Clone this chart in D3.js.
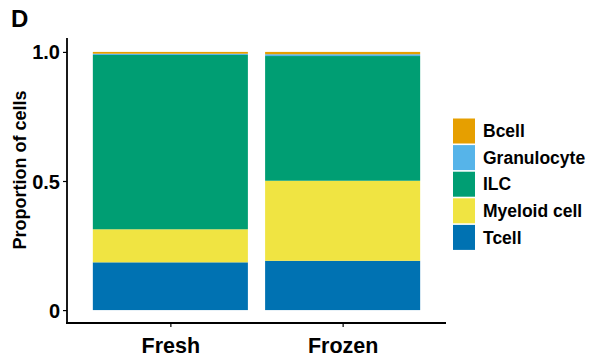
<!DOCTYPE html>
<html>
<head>
<meta charset="utf-8">
<script src="https://cdn.jsdelivr.net/npm/d3@7"></script>
<style>
  body { margin: 0; background: #fff; }
  svg text { font-family: Arial, "Liberation Sans", sans-serif; font-weight: bold; fill: #000; }
</style>
</head>
<body>
<svg id="chart" width="592" height="358"></svg>
<script>
// Data
const samples = ["Fresh", "Frozen"];
const cellTypes = ["Bcell", "Granulocyte", "ILC", "Myeloid cell", "Tcell"];
// proportions per sample, same order as cellTypes
const freshValues = [0.007, 0.005, 0.675, 0.128, 0.185];
const frozenValues = [0.009, 0.007, 0.483, 0.310, 0.191];
const yTicks = [0, 0.5, 1.0];
const yTickLabels = ["0", "0.5", "1.0"];

const colors = {
  "Bcell": "#E69F00",
  "Granulocyte": "#56B4E9",
  "ILC": "#009E73",
  "Myeloid cell": "#F0E442",
  "Tcell": "#0072B2",
};

const svg = d3.select("#chart");

// Scales
const x = d3.scalePoint().domain(samples).range([67, 446]).padding(0.6);
const y = d3.scaleLinear().domain([-0.05, 1.05]).range([323, 39]);
const barW = x.step() * 0.9;

// Stack (Tcell at the bottom, Bcell at the top)
const rows = samples.map((s, i) => {
  const vals = i === 0 ? freshValues : frozenValues;
  const r = { sample: s };
  cellTypes.forEach((c, j) => (r[c] = vals[j]));
  return r;
});
const stack = d3.stack().keys(cellTypes.slice().reverse());
const series = stack(rows);

svg.append("g")
  .selectAll("g")
  .data(series)
  .enter()
  .append("g")
  .attr("fill", (d) => colors[d.key])
  .selectAll("rect")
  .data((d) => d)
  .enter()
  .append("rect")
  .attr("x", (d) => x(d.data.sample) - barW / 2)
  .attr("width", barW)
  .attr("y", (d) => y(d[1]))
  .attr("height", (d) => y(d[0]) - y(d[1]));

// Axes
const yAxis = svg.append("g")
  .attr("transform", "translate(67,0)")
  .call(d3.axisLeft(y).tickValues(yTicks).tickFormat((d, i) => yTickLabels[i]).tickSize(4).tickPadding(3));
yAxis.select(".domain").attr("d", "M0,38V323.5").attr("stroke", "#000").attr("stroke-width", 1.8);
yAxis.selectAll(".tick line").attr("stroke", "#000").attr("stroke-width", 1.2);
yAxis.selectAll(".tick text").style("font-size", "20px").attr("dy", "0.35em");

const xAxis = svg.append("g")
  .attr("transform", "translate(0,323)")
  .call(d3.axisBottom(x).tickSize(4).tickPadding(6));
xAxis.select(".domain").attr("d", "M66,0H446").attr("stroke", "#000").attr("stroke-width", 1.8);
xAxis.selectAll(".tick line").attr("stroke", "#000").attr("stroke-width", 1.2);
xAxis.selectAll(".tick text").style("font-size", "21.5px").attr("dy", "0.95em");

// Y title
svg.append("text")
  .attr("transform", "translate(26,170) rotate(-90)")
  .attr("text-anchor", "middle")
  .style("font-size", "18px")
  .text("Proportion of cells");

// Panel tag
svg.append("text")
  .attr("x", 11)
  .attr("y", 27)
  .style("font-size", "24px")
  .text("D");

// Legend
const legend = svg.append("g").attr("transform", "translate(453,118.5)");
const item = legend.selectAll("g")
  .data(cellTypes)
  .enter()
  .append("g")
  .attr("transform", (d, i) => "translate(0," + i * 26.6 + ")");
item.append("rect")
  .attr("width", 22)
  .attr("height", 25)
  .attr("fill", (d) => colors[d]);
item.append("text")
  .attr("x", 30)
  .attr("y", 12.5)
  .attr("dy", "0.36em")
  .style("font-size", "17.5px")
  .text((d) => d);
</script>
</body>
</html>
